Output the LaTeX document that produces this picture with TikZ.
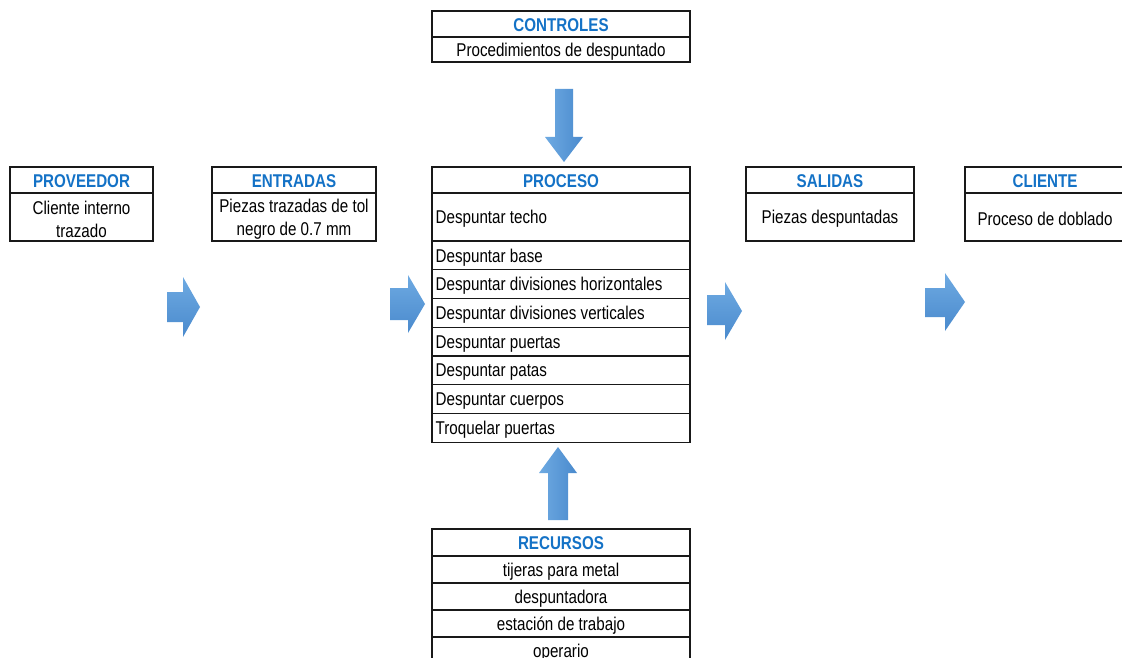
\documentclass[tikz,border=0pt]{standalone}
\usepackage{fontspec}
\setmainfont{Liberation Sans}[FakeStretch=0.82]
\definecolor{hdblue}{RGB}{20,114,198}
\definecolor{arrowlight}{RGB}{110,170,226}
\definecolor{arrowdark}{RGB}{74,138,205}
\definecolor{edge}{RGB}{25,25,25}
% block arrow pointing right: shaft x0,x1 / shaft y s0,s1 / head y h0,h1 / tip xt,yt
\newcommand\rightblock[8]{%
  \shade[top color=arrowlight, bottom color=arrowdark]
    (#1,#3) -- (#2,#3) -- (#2,#5) -- (#7,#8) -- (#2,#6) -- (#2,#4) -- (#1,#4) -- cycle;}
% block arrow pointing down or up: shaft x0,x1 / shaft y start / head x h0,h1 / head base y / tip x,y
\newcommand\vertblock[8]{%
  \shade[left color=arrowlight, right color=arrowdark]
    (#1,#3) -- (#2,#3) -- (#2,#6) -- (#5,#6) -- (#7,#8) -- (#4,#6) -- (#1,#6) -- cycle;}
% table cell: name / x / y / width / height / text style / text
\newcommand\cellbox[7]{%
  \node[cellframe, minimum width=#4, minimum height=#5] (#1) at (#2,#3) {};
  \node[#6] (#1-t) at (#1.center) {#7};}
% left-aligned table cell
\newcommand\leftcellbox[6]{%
  \node[cellframe, minimum width=#4, minimum height=#5] (#1) at (#2,#3) {};
  \node[bodytext, anchor=west, xshift=3.5pt] (#1-t) at (#1.west) {#6};}
\begin{document}
\begin{tikzpicture}[x=1pt,y=-1pt,
  cellframe/.style={draw=edge, line width=1.2pt, rectangle, inner sep=0pt, outer sep=0pt,
    anchor=north west},
  bodytext/.style={inner sep=0pt, yshift=-2pt, font=\fontsize{18.5}{23}\selectfont,
    text=black, align=center},
  headtext/.style={inner sep=0pt, yshift=-1pt, font=\bfseries\fontsize{18.5}{23}\selectfont,
    text=hdblue}]
\useasboundingbox (0,0) rectangle (1122,658);
\clip (0,0) rectangle (1122,658);

% CONTROLES
\cellbox{ctlh}{432}{11}{258}{26}{headtext}{CONTROLES}
\cellbox{ctl1}{432}{37}{258}{25}{bodytext}{Procedimientos de despuntado}

% PROVEEDOR
\cellbox{provh}{10}{167}{143}{26}{headtext}{PROVEEDOR}
\cellbox{prov1}{10}{193}{143}{48}{bodytext}{Cliente interno\\trazado}

% ENTRADAS
\cellbox{enth}{212}{167}{164}{26}{headtext}{ENTRADAS}
\cellbox{ent1}{212}{193}{164}{48}{bodytext}{Piezas trazadas de tol\\negro de 0.7 mm}

% PROCESO
\cellbox{proh}{432}{167}{258}{26}{headtext}{PROCESO}
\leftcellbox{pro1}{432}{193}{258}{48}{Despuntar techo}
\leftcellbox{pro2}{432}{241}{258}{28.75}{Despuntar base}
\leftcellbox{pro3}{432}{269.75}{258}{28.75}{Despuntar divisiones horizontales}
\leftcellbox{pro4}{432}{298.5}{258}{28.75}{Despuntar divisiones verticales}
\leftcellbox{pro5}{432}{327.25}{258}{28.75}{Despuntar puertas}
\leftcellbox{pro6}{432}{356}{258}{28.75}{Despuntar patas}
\leftcellbox{pro7}{432}{384.75}{258}{28.75}{Despuntar cuerpos}
\leftcellbox{pro8}{432}{413.5}{258}{28.75}{Troquelar puertas}

% SALIDAS
\cellbox{salh}{746}{167}{168}{26}{headtext}{SALIDAS}
\cellbox{sal1}{746}{193}{168}{48}{bodytext}{Piezas despuntadas}

% CLIENTE
\cellbox{clih}{965}{167}{160}{26}{headtext}{CLIENTE}
\cellbox{cli1}{965}{193}{160}{48}{bodytext}{Proceso de doblado}

% RECURSOS
\cellbox{rech}{432}{529}{258}{27}{headtext}{RECURSOS}
\cellbox{rec1}{432}{556}{258}{27}{bodytext}{tijeras para metal}
\cellbox{rec2}{432}{583}{258}{27}{bodytext}{despuntadora}
\cellbox{rec3}{432}{610}{258}{27}{bodytext}{estación de trabajo}
\cellbox{rec4}{432}{637}{258}{27}{bodytext}{operario}

% flow arrows
\rightblock{167}{183}{292}{322}{277}{337}{200}{307}
\rightblock{390}{408}{288}{320}{275}{333}{425}{304}
\rightblock{707}{725}{295}{325}{282}{340}{742}{311}
\rightblock{925}{945}{288}{317}{273}{331}{965}{302}
\vertblock{555}{573}{89}{545}{583}{137}{564}{162}
\vertblock{548}{568}{520}{539}{577}{473}{558}{447}
\end{tikzpicture}
\end{document}
